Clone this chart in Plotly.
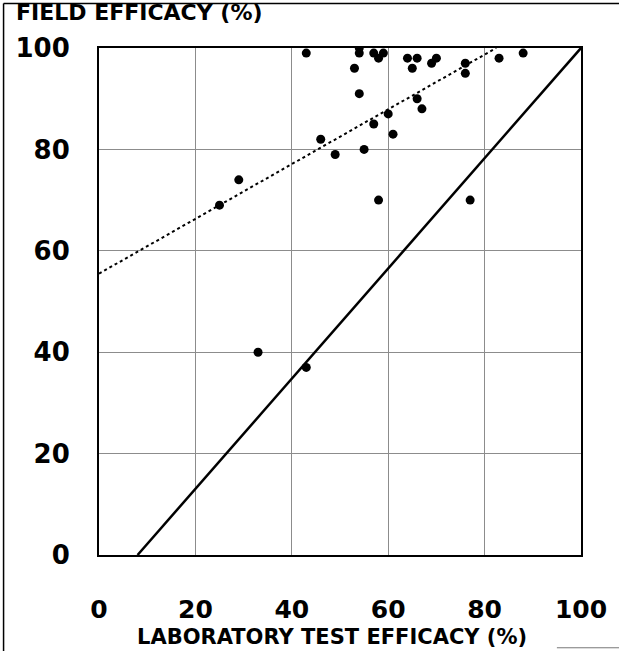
import plotly.graph_objects as go

# Data
lab_x = [25, 29, 33, 43, 43, 46, 49, 53, 54, 54, 54, 55, 57, 57, 58, 58, 59, 60,
         61, 64, 65, 66, 66, 67, 69, 70, 76, 76, 77, 83, 88]
field_y = [69, 74, 40, 37, 99, 82, 79, 96, 100, 99, 91, 80, 85, 99, 98, 70, 99, 87,
           83, 98, 96, 98, 90, 88, 97, 98, 97, 95, 70, 98, 99]

fit_x = [0, 82.4]
fit_y = [55.5, 100]

ref_x = [8, 100]
ref_y = [0, 100]

tick_vals = [0, 20, 40, 60, 80, 100]
tick_text = ["0", "20", "40", "60", "80", "100"]

x_title = "LABORATORY TEST EFFICACY (%)"
y_title = "FIELD EFFICACY (%)"

FONT = "DejaVu Sans"

fig = go.Figure()
fig.add_trace(go.Scatter(x=fit_x, y=fit_y, mode="lines",
                         line=dict(color="black", width=2, dash="dot"),
                         showlegend=False, hoverinfo="skip"))
fig.add_trace(go.Scatter(x=ref_x, y=ref_y, mode="lines",
                         line=dict(color="black", width=2.5),
                         showlegend=False, hoverinfo="skip"))
fig.add_trace(go.Scatter(x=lab_x, y=field_y, mode="markers",
                         marker=dict(color="black", size=9),
                         showlegend=False))

axis_common = dict(
    range=[0, 100], tickvals=tick_vals, ticktext=tick_text,
    showgrid=True, gridcolor="#8c8c8c", gridwidth=1,
    showline=True, linecolor="black", linewidth=2, mirror=True,
    zeroline=False, ticks="",
)

fig.update_xaxes(**axis_common, ticklabelstandoff=31,
                 tickfont=dict(family=FONT, size=25, color="black", weight="bold"))
fig.update_yaxes(**axis_common, ticklabelstandoff=22,
                 tickfont=dict(family=FONT, size=26, color="black", weight="bold"))

fig.add_annotation(text=y_title, xref="paper", yref="paper",
                   x=-0.177, y=1.071, xanchor="left", yanchor="middle",
                   showarrow=False,
                   font=dict(family=FONT, size=22, color="black", weight="bold"))
fig.add_annotation(text=x_title, xref="paper", yref="paper",
                   x=0.483, y=-0.162, xanchor="center", yanchor="middle",
                   showarrow=False,
                   font=dict(family=FONT, size=21, color="black", weight="bold"))

# frame lines (top and left) as in the scanned figure
fig.add_shape(type="line", xref="paper", yref="paper",
              x0=-0.198, x1=1.08, y0=1.088, y1=1.088,
              line=dict(color="black", width=1.5))
fig.add_shape(type="line", xref="paper", yref="paper",
              x0=-0.198, x1=-0.198, y0=-0.2, y1=1.088,
              line=dict(color="black", width=1.5))
fig.add_shape(type="line", xref="paper", yref="paper",
              x0=0.95, x1=1.08, y0=-0.183, y1=-0.183,
              line=dict(color="#777777", width=1))

fig.update_layout(
    width=619, height=651,
    margin=dict(l=99, r=36, t=48, b=96),
    paper_bgcolor="white", plot_bgcolor="white",
    showlegend=False,
)

fig.write_html("out.html", config={"displayModeBar": False},
               post_script="document.body.style.margin='0px';document.body.style.padding='0px';")
